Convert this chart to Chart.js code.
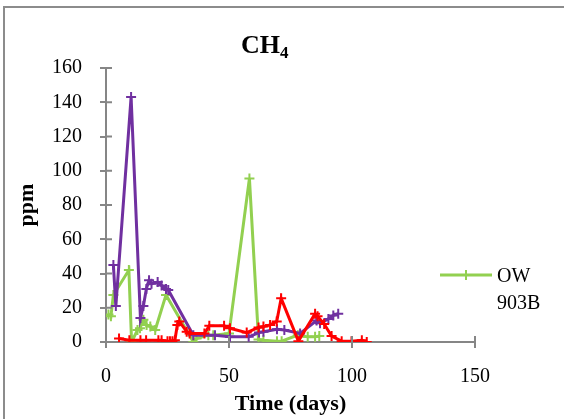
<!DOCTYPE html>
<html lang="en">
<head>
    <meta charset="UTF-8">
    <title>CH4</title>
    <script src="https://cdn.jsdelivr.net/npm/chart.js"></script>
    <style>
        body { margin: 0; background: #fff; }
        #wrap { position: relative; width: 564px; height: 419px; }
        #wrap::before {
            content: ''; position: absolute; left: 3px; top: 6px; right: 0; bottom: 0;
            border-left: 2px solid #8c8c8c; border-top: 2px solid #8c8c8c;
        }
        canvas { position: absolute; left: 0; top: 0; }
    </style>
</head>
<body>
    <div id="wrap"><canvas id="myChart" width="564" height="419"></canvas></div>

    <script>
        // 読み取り値 (days, ppm)
        const redDays = [5.3, 9.5, 14, 16.3, 21.3, 22.6, 25, 26, 27, 28, 29, 29.8, 32.8, 34, 40, 42, 48, 50.4, 57.2, 62, 64, 66.7, 69.4, 71.2, 78.2, 85, 86, 88.7, 91.7, 95.8, 99.8, 104, 106];
        const redVals = [2, 1, 1, 1, 1, 1, 0.5, 0.5, 0.5, 1, 10, 12, 6, 5, 5, 9.5, 9.5, 8, 5.5, 8.5, 9, 10, 12, 25.5, 0.5, 16.5, 15, 10.5, 3.5, 0.5, 0.5, 1, 0];

        const purpleDays = [3, 4, 10.2, 14, 15.2, 16.4, 17.5, 18.5, 21, 22.6, 24.4, 25.3, 35.5, 44.3, 50.4, 58, 62.2, 64, 69.5, 72.5, 78.9, 85.6, 87, 90.4, 92.4, 94.4];
        const purpleVals = [45, 21, 143, 14, 21, 31, 36, 34, 35, 33, 31, 30.4, 4, 4, 3, 3, 5.5, 6, 7.5, 7, 5, 12.5, 11, 13.5, 15.5, 16.5];

        const greenDays = [1, 2, 3, 9.3, 10.4, 12.8, 13.8, 15.2, 16.5, 18, 20, 24.4, 35.5, 36.8, 41.6, 43.6, 50, 58.3, 62, 64, 69.5, 71.4, 78, 82, 85, 86.7];
        const greenVals = [16, 15, 27.5, 42, 0, 7, 8, 13, 10, 9, 7, 27.5, 0, 2, 4, 4, 5, 95.5, 1.5, 1, 0.5, 0.5, 4, 3, 3, 3.5];

        const xTicks = [0, 50, 100, 150];
        const yTicks = [0, 20, 40, 60, 80, 100, 120, 140, 160];

        const axisColor = '#868686';
        const serif = "'Liberation Serif', 'Times New Roman', serif";

        function toPoints(xs, ys) {
            return xs.map((x, i) => ({ x: x, y: ys[i] }));
        }

        function series(label, xs, ys, color, order) {
            return {
                label: label,
                data: toPoints(xs, ys),
                borderColor: color,
                backgroundColor: color,
                borderWidth: 3,
                pointStyle: 'cross',
                pointRadius: 5,
                pointBorderWidth: 2,
                pointBorderColor: color,
                tension: 0,
                order: order
            };
        }

        // タイトル・凡例・内側の目盛り
        const extras = {
            id: 'extras',
            afterDraw(chart) {
                const ctx = chart.ctx;
                const xs = chart.scales.x, ys = chart.scales.y;
                ctx.save();

                // inner half of crossing ticks
                ctx.strokeStyle = axisColor;
                ctx.lineWidth = 2;
                ctx.beginPath();
                yTicks.forEach(v => {
                    const py = ys.getPixelForValue(v);
                    ctx.moveTo(xs.left, py);
                    ctx.lineTo(xs.left + 6, py);
                });
                xTicks.forEach(v => {
                    const px = xs.getPixelForValue(v);
                    ctx.moveTo(px, ys.bottom);
                    ctx.lineTo(px, ys.bottom - 6);
                });
                ctx.stroke();

                // title CH4
                ctx.fillStyle = '#000';
                ctx.textBaseline = 'alphabetic';
                ctx.textAlign = 'left';
                ctx.font = 'bold 26px ' + serif;
                const w = ctx.measureText('CH').width;
                const tx = 265 - (w + 9) / 2;
                ctx.fillText('CH', tx, 53);
                ctx.font = 'bold 17px ' + serif;
                ctx.fillText('4', tx + w, 58);

                // legend (OW 903B only)
                const ds = chart.data.datasets.find(d => d.label === 'OW 903B');
                ctx.strokeStyle = ds.borderColor;
                ctx.lineWidth = 3;
                ctx.beginPath();
                ctx.moveTo(440, 275);
                ctx.lineTo(492, 275);
                ctx.stroke();
                ctx.lineWidth = 2;
                ctx.beginPath();
                ctx.moveTo(466, 270);
                ctx.lineTo(466, 280);
                ctx.stroke();
                ctx.font = '20px ' + serif;
                ctx.textBaseline = 'middle';
                ctx.fillText('OW', 497, 277);
                ctx.fillText('903B', 497, 304);

                ctx.restore();
            }
        };

        const ctx = document.getElementById('myChart').getContext('2d');
        new Chart(ctx, {
            type: 'line',
            data: {
                datasets: [
                    series('Series 1', redDays, redVals, '#ff0000', 1),
                    series('Series 2', purpleDays, purpleVals, '#7030a0', 2),
                    series('OW 903B', greenDays, greenVals, '#92d050', 3)
                ]
            },
            options: {
                responsive: false,
                animation: false,
                layout: { padding: { left: 4, top: 68, right: 89, bottom: 0 } },
                plugins: {
                    legend: { display: false },
                    tooltip: { enabled: false }
                },
                scales: {
                    x: {
                        type: 'linear',
                        min: 0,
                        max: 150,
                        afterBuildTicks: s => { s.ticks = xTicks.map(v => ({ value: v })); },
                        afterFit: s => { s.height = 77; },
                        grid: { drawOnChartArea: false, tickLength: 6, color: axisColor, lineWidth: 2 },
                        border: { color: axisColor, width: 2 },
                        ticks: { color: '#000', padding: 17, maxRotation: 0, font: { family: serif, size: 20 } },
                        title: {
                            display: true, text: 'Time (days)', color: '#000',
                            padding: { top: 0, bottom: 1 },
                            font: { family: serif, size: 22, weight: 'bold' }
                        }
                    },
                    y: {
                        min: 0,
                        max: 160,
                        afterBuildTicks: s => { s.ticks = yTicks.map(v => ({ value: v })); },
                        afterFit: s => { s.width = 102; },
                        grid: { drawOnChartArea: false, tickLength: 6, color: axisColor, lineWidth: 2 },
                        border: { color: axisColor, width: 2 },
                        ticks: { color: '#000', padding: 18, font: { family: serif, size: 20 } },
                        title: {
                            display: true, text: 'ppm', color: '#000',
                            padding: { top: 10, bottom: 0 },
                            font: { family: serif, size: 22, weight: 'bold' }
                        }
                    }
                }
            },
            plugins: [extras]
        });
    </script>
</body>
</html>
